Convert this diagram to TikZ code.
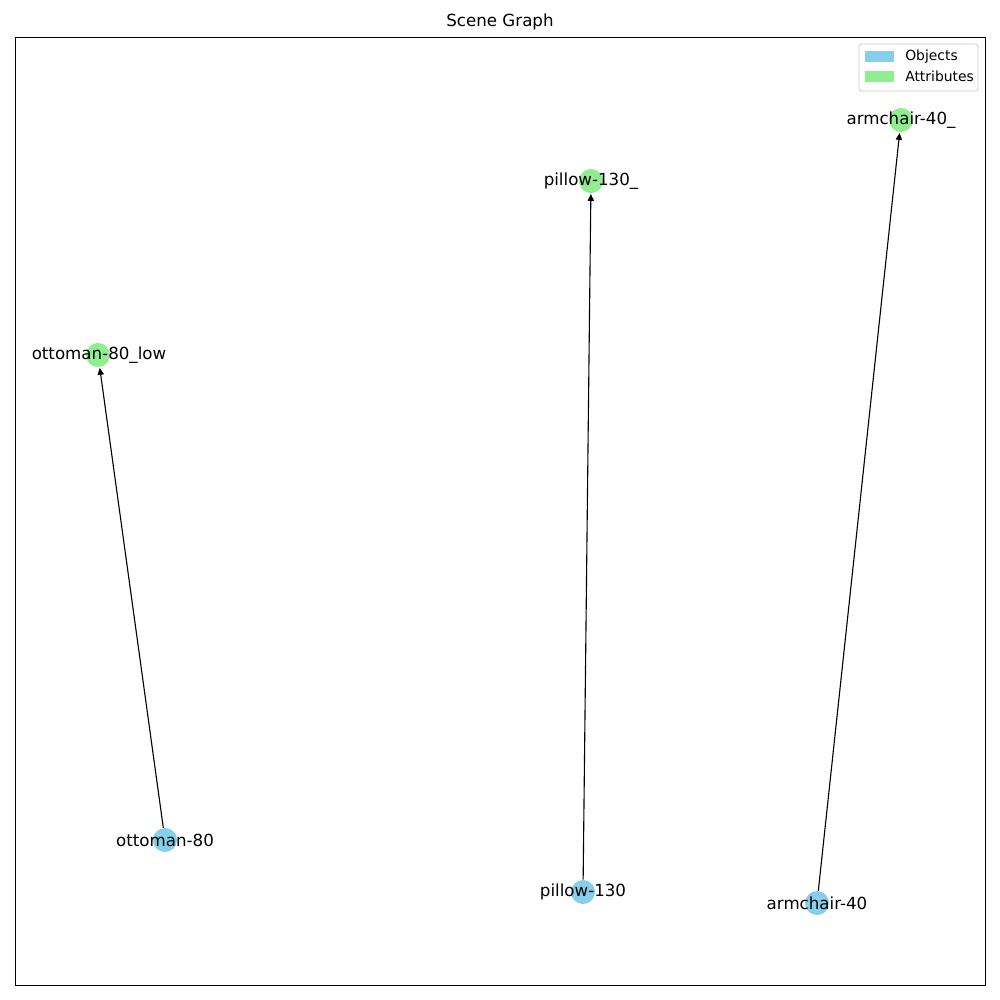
\documentclass[tikz,border=0pt]{standalone}
\usepackage{fontspec}
\setmainfont{DejaVu Sans}
\usetikzlibrary{arrows.meta}
\definecolor{skyblue}{RGB}{135,206,235}
\definecolor{lightgreen}{RGB}{144,238,144}
\definecolor{legframe}{RGB}{204,204,204}
\tikzset{
  objnode/.style={circle,fill=skyblue,draw=none,minimum size=17.3pt,inner sep=0pt},
  attnode/.style={circle,fill=lightgreen,draw=none,minimum size=17.3pt,inner sep=0pt},
  lbl/.style={font=\fontsize{12}{14}\selectfont,inner sep=0pt},
  edge/.style={draw=black,line width=0.8pt,-{Triangle[length=5pt,width=4.5pt]},shorten >=0.5pt},
  legtext/.style={font=\fontsize{10}{12}\selectfont,anchor=west,inner sep=0pt}
}
\begin{document}
\begin{tikzpicture}[x=0.72pt,y=-0.72pt]
\useasboundingbox (0,0) rectangle (1000,1000);
\fill[white] (0,0) rectangle (1000,1000);
\draw[line width=0.6pt] (15,37) rectangle (985,985);
\node[font=\fontsize{12}{14}\selectfont] (title) at (500,22) {Scene Graph};
% nodes
\node[attnode] (a1) at (98,355) {};
\node[attnode] (a2) at (591,181) {};
\node[attnode] (a3) at (901,120) {};
\node[objnode] (o1) at (165,840) {};
\node[objnode] (o2) at (583,892) {};
\node[objnode] (o3) at (817,903) {};
% edges
\draw[edge] (o1) -- (a1);
\draw[edge] (o2) -- (a2);
\draw[edge] (o3) -- (a3);
% labels
\node[lbl] (l1) at (99,355) {ottoman-80\_low};
\node[lbl] (l2) at (591,181) {pillow-130\_};
\node[lbl] (l3) at (901,120) {armchair-40\_};
\node[lbl] (l4) at (165,840) {ottoman-80};
\node[lbl] (l5) at (583,892) {pillow-130};
\node[lbl] (l6) at (817,903) {armchair-40};
% legend
\draw[legframe,fill=white,rounded corners=2pt,line width=0.6pt] (859,44) rectangle (978,91);
\fill[skyblue] (865,51) rectangle (894,62);
\fill[lightgreen] (865,71) rectangle (894,82);
\node[legtext] (lo) at (905,56.5) {Objects};
\node[legtext] (la) at (905,76.5) {Attributes};
\end{tikzpicture}
\end{document}
